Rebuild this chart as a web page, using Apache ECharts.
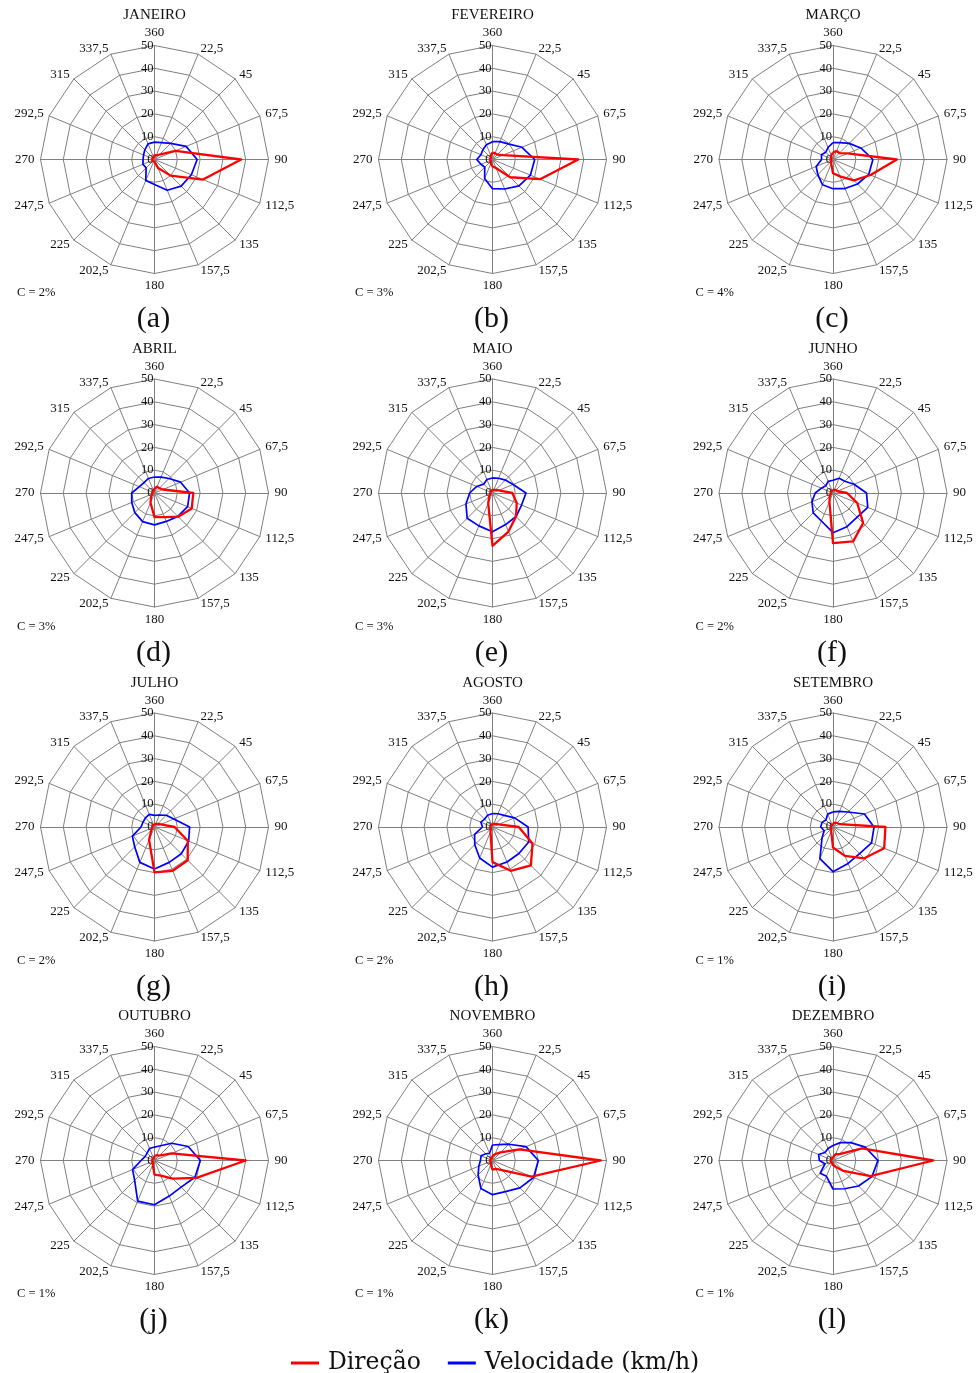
<!DOCTYPE html>
<html>
<head>
<meta charset="utf-8">
<script src="https://cdn.jsdelivr.net/npm/echarts@6/dist/echarts.min.js"></script>
<style>
html,body{margin:0;padding:0;background:#fff;}
#chart{width:980px;height:1373px;}
</style>
</head>
<body>
<div id="chart"></div>
<script>
// Direction categories (clockwise from north)
const dirLabels = ['360','22,5','45','67,5','90','112,5','135','157,5','180','202,5','225','247,5','270','292,5','315','337,5'];
const radialMax = 50;
const radialSplits = 5;
const months = ['JANEIRO','FEVEREIRO','MARÇO','ABRIL','MAIO','JUNHO','JULHO','AGOSTO','SETEMBRO','OUTUBRO','NOVEMBRO','DEZEMBRO'];
const panelLetters = ['(a)','(b)','(c)','(d)','(e)','(f)','(g)','(h)','(i)','(j)','(k)','(l)'];
const calmLabels = ['C = 2%','C = 3%','C = 4%','C = 3%','C = 3%','C = 2%','C = 2%','C = 2%','C = 1%','C = 1%','C = 1%','C = 1%'];
const seriesNames = ['Direção','Velocidade (km/h)'];

// Direção (%) per direction
const dirJan = [2, 2, 3, 10, 38, 23, 10, 4, 1, 1, 1, 1, 1, 1, 1, 1];
const dirFev = [3, 3, 3, 5, 37.6, 22.6, 11, 4, 3, 2, 1, 1, 1, 1, 1, 2];
const dirMar = [3, 4, 4, 7, 28, 17.8, 13, 8, 6, 2, 1, 1, 1, 1, 1, 2];
const dirAbr = [2, 3, 3, 4, 17, 17.7, 14.7, 11.5, 10.6, 4.6, 2, 1, 1, 1, 1, 1];
const dirMai = [1.5, 1.5, 2, 3, 8.7, 11.5, 14.6, 18.3, 23.2, 4.9, 2, 1, 1, 1, 1, 1];
const dirJun = [1.5, 1.5, 2, 2, 6.2, 11.5, 18.7, 23, 22, 4.1, 2, 1, 1, 1, 1, 1];
const dirJul = [1, 1.5, 2, 3, 8.8, 15.8, 20.6, 20.8, 19.9, 6.2, 2, 1, 1, 1, 1, 1];
const dirAgo = [1.5, 1.5, 2, 3, 11.5, 19, 23.8, 20.8, 15.4, 2.3, 1, 1, 1, 1, 1, 1];
const dirSet = [1.5, 2, 2.5, 3.2, 23, 24.3, 19.4, 13.7, 9, 2, 1, 1, 1, 1, 1, 1];
const dirOut = [2, 2.5, 3, 8.1, 40, 19.9, 11.3, 7.2, 6.2, 2, 1, 1, 1, 1, 1, 1];
const dirNov = [2, 3, 5, 12.8, 47.5, 18.5, 6, 4, 4, 2, 1, 1, 1, 1, 1, 1];
const dirDez = [1.5, 3, 4, 13.8, 44, 17.8, 6.5, 3, 2, 1, 1, 1, 1, 1, 1, 1];

// Velocidade (km/h) per direction
const velJan = [7.6, 8, 10, 15, 18.7, 17.5, 16.5, 14.6, 11, 10, 5.2, 5.5, 5, 5.2, 6, 7.4];
const velFev = [7.8, 8.5, 9.7, 14, 18.5, 18, 16.4, 14, 12.8, 9, 4.8, 5.5, 6.9, 5.5, 6, 7];
const velMar = [7.4, 8, 10, 13.2, 17.5, 17, 15.2, 13.8, 12.8, 12, 9.4, 8, 5, 5.5, 4.5, 5.7];
const velAbr = [7, 7.5, 9, 12.4, 15.4, 15.7, 14.5, 13.5, 14, 13.6, 12.2, 10.8, 10, 7.2, 6.5, 6.9];
const velMai = [6.6, 7, 8, 9.8, 14.7, 13.8, 14.6, 15, 17, 15.6, 15.7, 12.6, 10, 7.5, 5.5, 6.4];
const velJun = [5.6, 7, 7.3, 10, 14.7, 16.5, 15, 16, 17.4, 13.3, 12.3, 10, 7.8, 5.5, 4.5, 5.5];
const velJul = [5.1, 5.7, 7.3, 9.2, 15.4, 16.2, 16.6, 16.8, 18.4, 16.8, 12.3, 10.5, 5.9, 5.5, 5.6, 6];
const velAgo = [5.9, 6.3, 7.2, 10.5, 15.6, 17.2, 16.4, 16.6, 17.6, 14.7, 11, 8.5, 4.4, 5.5, 4.9, 5.6];
const velSet = [6.6, 7.4, 9.3, 14.9, 18, 18.3, 16.5, 17.3, 19.6, 15, 6.8, 4.2, 5.4, 5.2, 4.4, 6.1];
const velOut = [5.9, 7, 10.7, 16, 20.1, 19.2, 16.5, 16.9, 19.4, 19.3, 12.3, 10.4, 5.9, 4.5, 4.6, 5.7];
const velNov = [6.8, 7.5, 10.1, 15.9, 20.1, 19.5, 17, 14.8, 15, 13.3, 8.9, 6.5, 5.3, 5.4, 4.2, 3.4];
const velDez = [6.6, 8.5, 11.1, 15.3, 19.7, 18.5, 15.8, 13.4, 12.5, 7.5, 7.9, 3.8, 6, 6.8, 5, 5.7];

const dirAll = [dirJan, dirFev, dirMar, dirAbr, dirMai, dirJun, dirJul, dirAgo, dirSet, dirOut, dirNov, dirDez];
const velAll = [velJan, velFev, velMar, velAbr, velMai, velJun, velJul, velAgo, velSet, velOut, velNov, velDez];

// layout
const colX = [154.5, 492.5, 833];
const rowY = [159.5, 493, 827, 1160.5];
const R = 114;
const SERIF = "'Liberation Serif', 'Times New Roman', serif";

// ECharts radar runs counter-clockwise: reorder so directions go clockwise
const cw = arr => [arr[0]].concat(arr.slice(1).reverse());

const indicators = cw(dirLabels).map((name, i) => {
  const ind = { name: name, min: 0, max: radialMax };
  if (i === 0) ind.axisLabel = { show: true };
  return ind;
});

const radars = [], series = [], titles = [];
for (let p = 0; p < 12; p++) {
  const cx = colX[p % 3], cy = rowY[Math.floor(p / 3)];
  radars.push({
    center: [cx, cy],
    radius: R,
    startAngle: 90,
    shape: 'polygon',
    splitNumber: radialSplits,
    indicator: indicators,
    nameGap: 6,
    axisName: { color: '#111', fontFamily: SERIF, fontSize: 13 },
    axisLine: { lineStyle: { color: '#808080', width: 1 } },
    splitLine: { lineStyle: { color: '#808080', width: 1 } },
    splitArea: { show: false },
    axisTick: { show: false },
    axisLabel: { show: false, color: '#111', fontFamily: SERIF, fontSize: 12.5, margin: 1, showMinLabel: true }
  });
  series.push({
    type: 'radar', radarIndex: p, name: seriesNames[1], symbol: 'none', z: 3,
    lineStyle: { color: '#0000ff', width: 1.7 }, itemStyle: { color: '#0000ff' },
    data: [{ value: cw(velAll[p]), name: seriesNames[1] }]
  });
  series.push({
    type: 'radar', radarIndex: p, name: seriesNames[0], symbol: 'none', z: 4,
    lineStyle: { color: '#ff0000', width: 2.3 }, itemStyle: { color: '#ff0000' },
    data: [{ value: cw(dirAll[p]), name: seriesNames[0] }]
  });
  titles.push({
    text: months[p], left: cx, top: cy - 151.5, textAlign: 'center', padding: 0,
    textStyle: { fontFamily: SERIF, fontWeight: 'normal', fontSize: 15, color: '#111' }
  });
  titles.push({
    text: panelLetters[p], left: cx - 1, top: cy + 145, textAlign: 'center', padding: 0,
    textStyle: { fontFamily: SERIF, fontWeight: 'normal', fontSize: 30, color: '#111' }
  });
  titles.push({
    text: calmLabels[p], left: cx - 137.5, top: cy + 127, textAlign: 'left', padding: 0,
    textStyle: { fontFamily: SERIF, fontWeight: 'normal', fontSize: 12.5, color: '#111' }
  });
}

const chart = echarts.init(document.getElementById('chart'), null, { renderer: 'canvas' });
chart.setOption({
  animation: false,
  backgroundColor: '#fff',
  title: titles,
  radar: radars,
  legend: {
    data: seriesNames,
    top: 1346,
    left: 286,
    icon: 'rect',
    itemWidth: 28,
    itemHeight: 3,
    itemGap: 27,
    textStyle: { fontFamily: "'DejaVu Serif', serif", fontSize: 23.5, color: '#111', padding: [0, 0, 0, 4] }
  },
  series: series
});
</script>
</body>
</html>
